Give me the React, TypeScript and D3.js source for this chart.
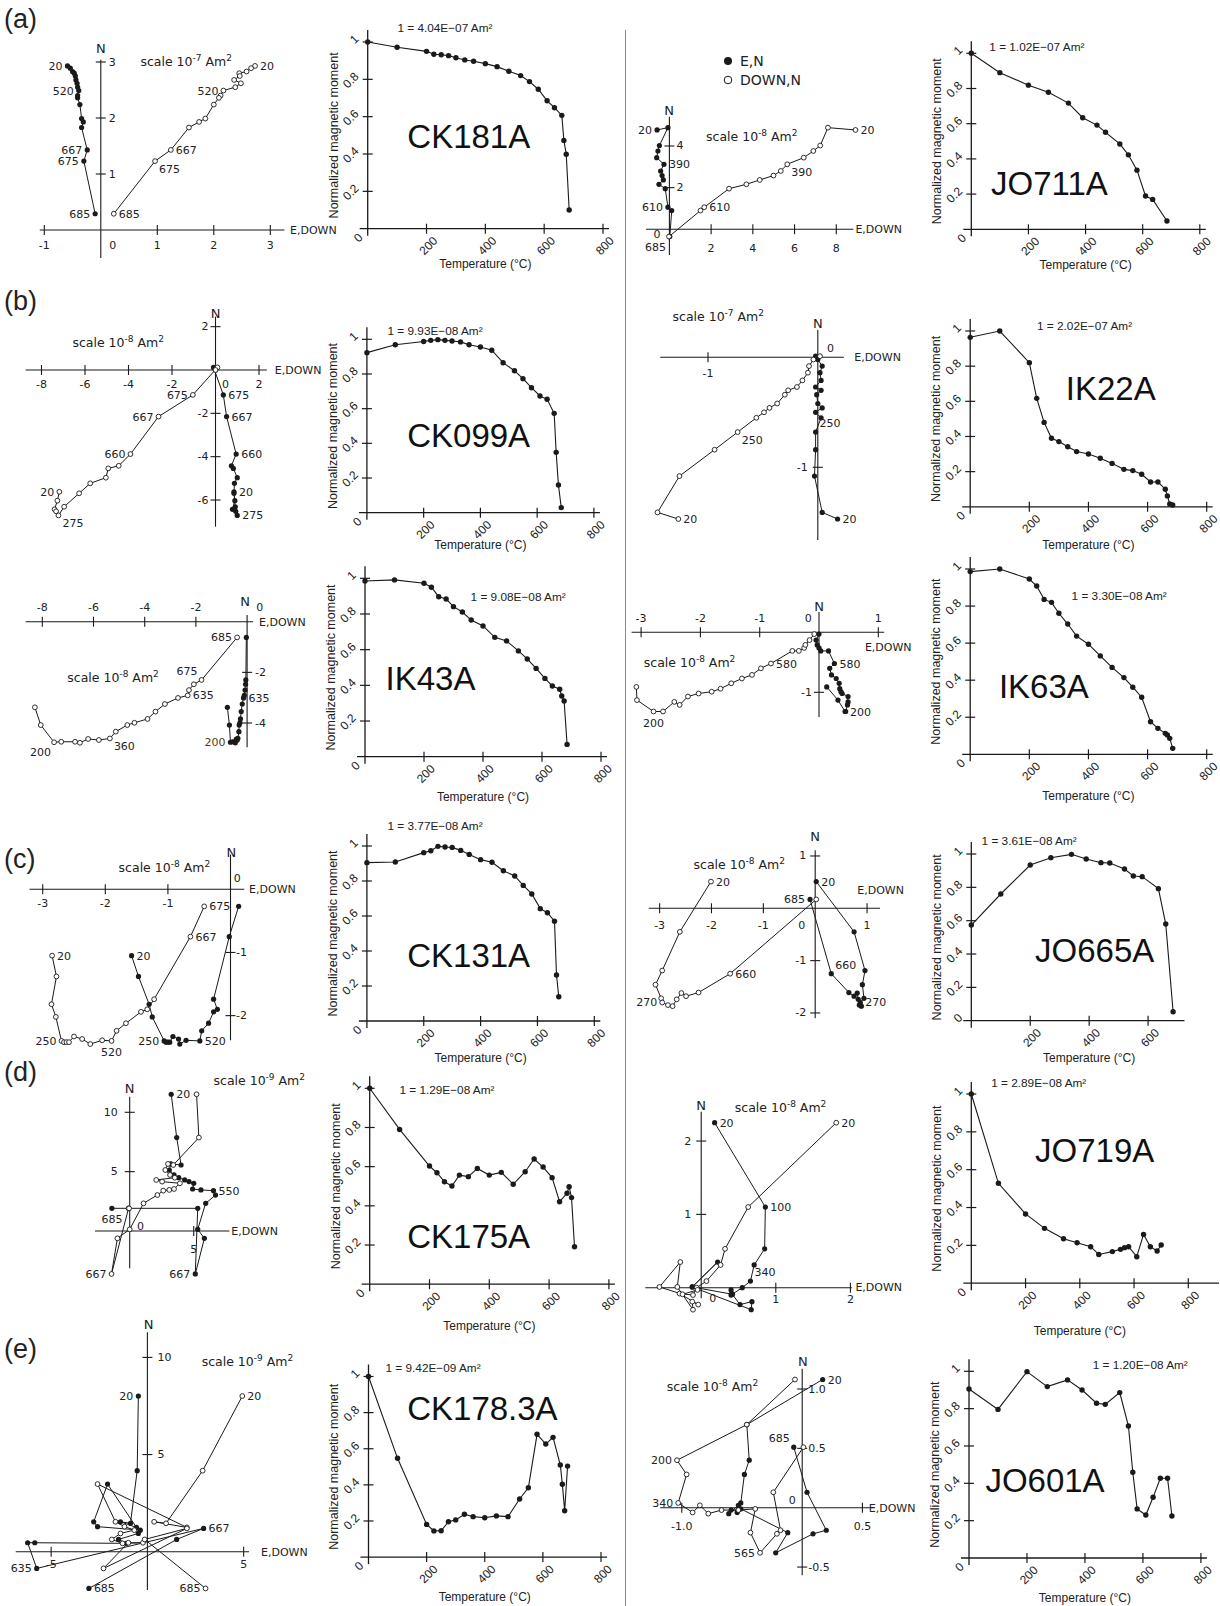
import React from "react";
import * as d3 from "d3";

// [point index, label text, side]  side: L R AL AR BL BR B
type Lbl = [number, string, string];

// ---------------- temperature steps (°C) ----------------
const stepsCK = [0, 100, 200, 225, 250, 275, 300, 330, 360, 400, 440, 480, 520, 550, 580, 610, 635, 660, 667, 675, 685];
const stepsCK131 = [0, 100, 200, 225, 250, 275, 300, 330, 360, 400, 440, 480, 520, 550, 580, 610, 635, 660, 667, 675];
const stepsJO711 = [0, 100, 200, 270, 340, 390, 440, 470, 520, 550, 580, 610, 635, 685];
const stepsJO665 = [0, 100, 200, 270, 340, 390, 440, 470, 520, 550, 580, 635, 660, 685];
const stepsJO = [0, 100, 200, 270, 340, 390, 440, 470, 520, 550, 565, 580, 610, 635, 660, 685, 700];

// ---------------- CK181A ----------------
const ck181aMoment = [1.0, 0.972, 0.95, 0.934, 0.932, 0.927, 0.916, 0.904, 0.897, 0.884, 0.868, 0.843, 0.82, 0.788, 0.747, 0.685, 0.648, 0.607, 0.473, 0.399, 0.1];
const ck181aNorth = [2.93, 2.89, 2.83, 2.8, 2.75, 2.68, 2.62, 2.55, 2.49, 2.4, 2.36, 2.24, 1.99, 1.93, 1.83, 1.43, 1.23, 0.29];
const ck181aEast = [-0.59, -0.54, -0.5, -0.47, -0.45, -0.44, -0.42, -0.41, -0.39, -0.41, -0.41, -0.37, -0.34, -0.31, -0.34, -0.24, -0.3, -0.1];
const ck181aDown = [2.73, 2.66, 2.58, 2.45, 2.46, 2.36, 2.48, 2.38, 2.17, 2.12, 2.09, 2.0, 1.85, 1.74, 1.56, 1.24, 0.96, 0.23];
const ck181aEastLbl: Lbl[] = [[0, "20", "L"], [8, "520", "L"], [15, "667", "L"], [16, "675", "L"], [17, "685", "L"]];
const ck181aDownLbl: Lbl[] = [[0, "20", "R"], [8, "520", "L"], [15, "667", "R"], [16, "675", "BR"], [17, "685", "R"]];

// ---------------- JO711A ----------------
const jo711aMoment = [1.0, 0.89, 0.819, 0.779, 0.717, 0.634, 0.592, 0.551, 0.485, 0.423, 0.336, 0.189, 0.17, 0.047];
const jo711aNorth = [4.77, 4.88, 4.02, 3.76, 3.44, 3.12, 2.8, 2.58, 2.37, 2.16, 1.95, 1.06, 0.9, -0.35];
const jo711aEast = [-0.59, -0.07, -0.48, -0.55, -0.61, -0.26, -0.42, -0.35, -0.29, -0.5, -0.2, -0.07, 0.11, 0.02];
const jo711aDown = [8.92, 7.6, 7.23, 6.9, 6.44, 5.65, 5.34, 4.99, 4.33, 3.69, 2.86, 1.67, 1.49, -0.02];
const jo711aEastLbl: Lbl[] = [[0, "20", "L"], [5, "390", "R"], [11, "610", "L"]];
const jo711aDownLbl: Lbl[] = [[0, "20", "R"], [5, "390", "BR"], [11, "610", "R"], [13, "685", "BL"]];

// ---------------- CK099A ----------------
const ck099aMoment = [0.923, 0.969, 0.987, 0.994, 0.998, 0.994, 0.99, 0.985, 0.969, 0.956, 0.937, 0.865, 0.819, 0.773, 0.721, 0.673, 0.654, 0.573, 0.348, 0.16, 0.029];
const ck099aNorth = [-5.62, -6.03, -6.43, -6.52, -6.71, -6.31, -5.69, -5.23, -4.97, -4.54, -4.42, -3.88, -2.15, -1.15, 0.12, 0];
const ck099aEast = [0.85, 0.89, 0.78, 0.93, 1.0, 0.91, 0.85, 0.87, 1.0, 0.82, 0.73, 0.95, 0.51, 0.36, -0.09, 0];
const ck099aDown = [-7.18, -7.27, -7.4, -7.33, -7.22, -6.96, -6.27, -5.76, -5.04, -4.93, -4.45, -3.91, -2.62, -1.04, 0.09, 0];
const ck099aEastLbl: Lbl[] = [[0, "20", "R"], [4, "275", "R"], [11, "660", "R"], [12, "667", "R"], [13, "675", "R"]];
const ck099aDownLbl: Lbl[] = [[0, "20", "L"], [4, "275", "BR"], [11, "660", "L"], [12, "667", "L"], [13, "675", "L"]];

// ---------------- IK22A ----------------
const ik22aMoment = [0.964, 1.0, 0.82, 0.617, 0.48, 0.39, 0.371, 0.342, 0.314, 0.3, 0.276, 0.247, 0.213, 0.206, 0.185, 0.141, 0.141, 0.1, 0.062, 0.016, 0.01];
const ik22aNorth = [-1.47, -1.41, -1.08, -0.84, -0.68, -0.55, -0.5, -0.46, -0.42, -0.34, -0.3, -0.27, -0.21, -0.14, -0.08, -0.02, 0.01];
const ik22aEast = [0.18, 0.04, -0.03, -0.02, -0.02, 0.03, -0.02, 0.04, 0, -0.01, 0.03, -0.02, 0.03, 0.02, 0.04, 0, -0.02];
const ik22aDown = [-1.27, -1.46, -1.26, -0.94, -0.73, -0.56, -0.49, -0.44, -0.37, -0.3, -0.27, -0.19, -0.14, -0.09, -0.08, -0.04, 0.02];
const ik22aEastLbl: Lbl[] = [[0, "20", "R"], [4, "250", "AR"]];
const ik22aDownLbl: Lbl[] = [[0, "20", "R"], [4, "250", "BR"]];

// ---------------- IK43A ----------------
const ik43aMoment = [0.985, 0.991, 0.972, 0.95, 0.897, 0.884, 0.841, 0.811, 0.766, 0.733, 0.669, 0.649, 0.593, 0.548, 0.495, 0.439, 0.396, 0.378, 0.34, 0.312, 0.069];
const ik43aNorth = [-3.38, -4.08, -4.76, -4.74, -4.74, -4.78, -4.63, -4.67, -4.61, -4.34, -4.08, -3.99, -3.84, -3.55, -3.25, -3.01, -2.91, -2.7, -2.47, -2.3, -0.62];
const ik43aEast = [-0.77, -0.69, -0.65, -0.57, -0.51, -0.46, -0.42, -0.39, -0.36, -0.32, -0.31, -0.28, -0.26, -0.23, -0.19, -0.14, -0.11, -0.08, -0.06, -0.05, -0.03];
const ik43aDown = [-8.29, -8.06, -7.54, -7.26, -6.72, -6.53, -6.21, -5.79, -5.36, -5.13, -4.68, -4.4, -3.89, -3.58, -3.21, -2.7, -2.32, -2.27, -2.08, -1.78, -0.39];
const ik43aEastLbl: Lbl[] = [[2, "200", "L"], [15, "635", "R"]];
const ik43aDownLbl: Lbl[] = [[2, "200", "BL"], [8, "360", "BR"], [16, "635", "R"], [19, "675", "AL"], [20, "685", "L"]];

// ---------------- IK63A ----------------
const ik63aMoment = [0.986, 1.0, 0.946, 0.908, 0.836, 0.82, 0.761, 0.703, 0.638, 0.594, 0.531, 0.469, 0.414, 0.362, 0.308, 0.176, 0.14, 0.113, 0.104, 0.086, 0.032];
const ik63aNorth = [-0.91, -1.13, -1.32, -1.32, -1.16, -1.21, -1.07, -1.02, -0.99, -0.94, -0.85, -0.77, -0.71, -0.6, -0.52, -0.31, -0.31, -0.26, -0.21, -0.13, -0.03];
const ik63aEast = [0.13, 0.32, 0.44, 0.45, 0.49, 0.48, 0.49, 0.39, 0.37, 0.35, 0.34, 0.29, 0.21, 0.18, 0.26, 0.16, 0.03, 0, -0.03, -0.05, 0];
const ik63aDown = [-3.08, -3.07, -2.79, -2.63, -2.44, -2.35, -2.21, -2.03, -1.81, -1.66, -1.48, -1.3, -1.13, -0.98, -0.81, -0.45, -0.34, -0.25, -0.23, -0.16, -0.08];
const ik63aEastLbl: Lbl[] = [[2, "200", "R"], [14, "580", "R"]];
const ik63aDownLbl: Lbl[] = [[2, "200", "B"], [14, "580", "R"]];

// ---------------- CK131A ----------------
const ck131aMoment = [0.905, 0.909, 0.962, 0.973, 0.998, 0.994, 0.992, 0.975, 0.952, 0.922, 0.907, 0.859, 0.829, 0.775, 0.726, 0.642, 0.619, 0.57, 0.263, 0.139];
const ck131aNorth = [-1.05, -1.38, -1.82, -2.02, -2.4, -2.42, -2.42, -2.42, -2.33, -2.37, -2.45, -2.39, -2.4, -2.24, -2.12, -1.94, -1.9, -1.74, -0.75, -0.27];
const ck131aEast = [-1.58, -1.47, -1.3, -1.25, -1.06, -1.03, -1.0, -0.97, -0.92, -0.83, -0.81, -0.71, -0.49, -0.46, -0.35, -0.27, -0.21, -0.27, -0.02, 0.13];
const ck131aDown = [-2.85, -2.78, -2.86, -2.79, -2.7, -2.66, -2.62, -2.58, -2.5, -2.37, -2.24, -2.05, -1.9, -1.82, -1.67, -1.43, -1.33, -1.22, -0.64, -0.42];
const ck131aEastLbl: Lbl[] = [[0, "20", "R"], [4, "250", "L"], [12, "520", "R"]];
const ck131aDownLbl: Lbl[] = [[0, "20", "R"], [4, "250", "L"], [12, "520", "B"], [18, "667", "R"], [19, "675", "R"]];

// ---------------- JO665A ----------------
const jo665aMoment = [0.574, 0.76, 0.934, 0.978, 0.998, 0.97, 0.948, 0.946, 0.91, 0.868, 0.864, 0.792, 0.58, 0.054];
const jo665aNorth = [0.51, -0.45, -1.19, -1.46, -1.72, -1.8, -1.85, -1.87, -1.74, -1.62, -1.68, -1.61, -1.25, 0.17];
const jo665aEast = [0.02, 0.75, 0.96, 0.91, 0.94, 0.87, 0.85, 0.89, 0.83, 0.81, 0.75, 0.65, 0.31, -0.1];
const jo665aDown = [-2.01, -2.61, -2.95, -3.08, -2.97, -2.95, -2.84, -2.75, -2.67, -2.58, -2.49, -2.25, -1.64, 0.02];
const jo665aEastLbl: Lbl[] = [[0, "20", "R"], [5, "270", "R"], [12, "660", "AR"], [13, "685", "L"]];
const jo665aDownLbl: Lbl[] = [[0, "20", "R"], [5, "270", "L"], [12, "660", "R"]];

// ---------------- CK175A ----------------
const ck175aMoment = [1.0, 0.79, 0.603, 0.569, 0.523, 0.501, 0.557, 0.549, 0.591, 0.557, 0.571, 0.51, 0.574, 0.639, 0.598, 0.544, 0.421, 0.464, 0.498, 0.442, 0.191];
const ck175aNorth = [11.52, 7.87, 5.56, 5.65, 5.14, 4.72, 4.49, 4.3, 4.16, 4.02, 3.54, 3.46, 3.4, 3.03, 2.33, 0.14, -0.62, -3.62, 1.91, 1.91];
const ck175aEast = [3.24, 3.67, 4.01, 3.21, 3.09, 3.46, 3.83, 4.29, 4.63, 5.0, 4.91, 5.56, 6.54, 6.7, 5.93, 5.31, 5.83, 5.12, 5.31, -1.39];
const ck175aDown = [5.22, 5.4, 3.4, 2.99, 2.78, 3.15, 3.52, 2.07, 2.53, 3.92, 3.46, 3.09, 2.62, 2.16, 1.08, 0, -0.96, -1.42, -0.09, -0.05];
const ck175aEastLbl: Lbl[] = [[0, "20", "R"], [12, "550", "R"], [17, "667", "L"], [19, "685", "B"]];
const ck175aDownLbl: Lbl[] = [[17, "667", "L"]];

// ---------------- JO719A ----------------
const jo719aMoment = [1.0, 0.528, 0.366, 0.29, 0.235, 0.214, 0.193, 0.152, 0.167, 0.179, 0.188, 0.193, 0.14, 0.258, 0.193, 0.17, 0.202];
const jo719aNorth = [2.25, 1.1, 0.53, 0.31, 0.09, 0, -0.1, -0.08, -0.23, -0.19, -0.3, 0.01, 0.35, 0.01, -0.09, -0.03];
const jo719aEast = [0.18, 0.86, 0.85, 0.71, 0.66, 0.55, 0.4, 0.41, 0.52, 0.68, 0.67, -0.12, 0.22, -0.12, 0.42, 0.4];
const jo719aDown = [1.81, 0.63, 0.32, 0.26, 0.07, -0.06, -0.11, -0.29, -0.04, -0.12, -0.11, -0.32, -0.28, -0.56, -0.25, -0.05];
const jo719aEastLbl: Lbl[] = [[0, "20", "R"], [1, "100", "R"], [4, "340", "AR"]];
const jo719aDownLbl: Lbl[] = [[0, "20", "R"]];

// ---------------- CK178.3A ----------------
const ck1783aMoment = [1.0, 0.547, 0.181, 0.145, 0.146, 0.196, 0.206, 0.237, 0.224, 0.218, 0.228, 0.224, 0.322, 0.384, 0.68, 0.626, 0.663, 0.51, 0.403, 0.257, 0.504];
const ck1783aNorth = [8.01, 4.17, 1.46, 1.54, 1.25, 3.48, 1.54, 1.29, 1.11, 0.94, 0.63, 0.43, 0.46, 0.46, -0.86, 1.2, 0.63, -1.89];
const ck1783aEast = [-0.47, -0.53, -0.88, -1.4, -0.57, -2.07, -2.79, -2.59, -0.37, -0.47, -1.5, -1.09, -5.85, -6.22, -5.75, 2.92, 1.52, -3.04];
const ck1783aDown = [4.93, 2.87, 0.97, 0.35, 2.05, -2.59, -1.66, -1.19, -0.68, -1.4, -1.85, -1.29, -0.23, -0.99, -2.28, 2.05, -0.14, 3.02];
const ck1783aEastLbl: Lbl[] = [[0, "20", "L"], [14, "635", "L"], [15, "667", "R"], [17, "685", "R"]];
const ck1783aDownLbl: Lbl[] = [[0, "20", "R"], [17, "685", "L"]];

// ---------------- JO601A ----------------
const jo601aMoment = [0.905, 0.796, 0.998, 0.918, 0.954, 0.9, 0.829, 0.823, 0.886, 0.707, 0.459, 0.263, 0.23, 0.325, 0.427, 0.427, 0.225];
const jo601aNorth = [1.08, 0.7, 0.4, 0.28, 0.04, -0.04, 0.02, -0.05, -0.02, -0.02, -0.01, -0.21, -0.38, -0.22, -0.19, 0.13, 0.51];
const jo601aEast = [0.17, -0.46, -0.44, -0.48, -0.51, -0.54, -0.53, -0.61, -0.59, -0.53, -0.51, -0.12, -0.22, 0.09, 0.2, 0.04, -0.07];
const jo601aDown = [-0.06, -0.46, -1.04, -0.96, -1.03, -0.91, -0.85, -0.78, -0.67, -0.53, -0.39, -0.43, -0.35, -0.21, -0.18, -0.24, 0.01];
const jo601aEastLbl: Lbl[] = [[0, "20", "R"], [16, "685", "AL"]];
const jo601aDownLbl: Lbl[] = [[2, "200", "L"], [4, "340", "L"], [12, "565", "L"]];

const INK = "#1a1a1a";

// label placement next to a point
function place(side: string, px: number, py: number) {
  switch (side) {
    case "L": return { x: px - 5, y: py + 4, a: "end" };
    case "AL": return { x: px - 4, y: py - 5, a: "end" };
    case "BL": return { x: px - 3, y: py + 14, a: "end" };
    case "AR": return { x: px + 4, y: py - 5, a: "start" };
    case "BR": return { x: px + 4, y: py + 12, a: "start" };
    case "B": return { x: px, y: py + 15, a: "middle" };
    default: return { x: px + 5, y: py + 4, a: "start" };
  }
}

type Zij = {
  ox: number; oy: number; kx: number; ky: number;
  xr: [number, number]; yr: [number, number];
  xt: number[]; xtDy: number; yt: number[]; ytDx: number;
  zero?: [number, number]; n: [number, number]; e: [number, number];
  sc: [number, number]; exp: string; dec1?: boolean;
  north: number[]; east: number[]; down: number[];
  eLbl: Lbl[]; dLbl: Lbl[]; brown?: number;
};

function Zijderveld({ z }: { z: Zij }) {
  const x = d3.scaleLinear().domain([0, 1]).range([z.ox, z.ox + z.kx]);
  const y = d3.scaleLinear().domain([0, 1]).range([z.oy, z.oy - z.ky]);
  const fmt = (v: number) => (z.dec1 ? v.toFixed(1) : String(v));
  const hor = z.north.map((n, i) => [z.east[i], n] as [number, number]);
  const ver = z.north.map((n, i) => [z.down[i], n] as [number, number]);
  const line = d3.line<[number, number]>().x((d) => x(d[0])).y((d) => y(d[1]));
  const ytAnchor = z.ytDx < 0 ? "end" : "start";
  return (
    <g fontFamily="'DejaVu Sans', Verdana, sans-serif" fill="#222">
      <line x1={x(z.xr[0])} x2={x(z.xr[1])} y1={z.oy} y2={z.oy} stroke={INK} strokeWidth={1.1} />
      <line x1={z.ox} x2={z.ox} y1={y(z.yr[0])} y2={y(z.yr[1])} stroke={INK} strokeWidth={1.1} />
      {z.xt.map((v) => (
        <g key={"xt" + v}>
          <line x1={x(v)} x2={x(v)} y1={z.oy - 5} y2={z.oy + 5} stroke={INK} strokeWidth={1.1} />
          <text x={x(v)} y={z.oy + z.xtDy} textAnchor="middle" dominantBaseline="central" fontSize={11}>{fmt(v)}</text>
        </g>
      ))}
      {z.yt.map((v) => (
        <g key={"yt" + v}>
          <line x1={z.ox - 5} x2={z.ox + 5} y1={y(v)} y2={y(v)} stroke={INK} strokeWidth={1.1} />
          <text x={z.ox + z.ytDx} y={y(v)} textAnchor={ytAnchor} dominantBaseline="central" fontSize={11}>{fmt(v)}</text>
        </g>
      ))}
      {z.zero && (
        <text x={z.ox + z.zero[0]} y={z.oy + z.zero[1]} textAnchor="middle" dominantBaseline="central" fontSize={11}>0</text>
      )}
      <text x={z.n[0]} y={z.n[1]} textAnchor="middle" dominantBaseline="central" fontSize={13}>N</text>
      <text x={z.e[0]} y={z.e[1]} dominantBaseline="central" fontSize={11}>E,DOWN</text>
      <text x={z.sc[0]} y={z.sc[1] + 4} fontSize={12.5}>
        scale 10<tspan dy={-5} fontSize={9}>{z.exp}</tspan>
        <tspan dy={5} fontSize={12.5}> Am</tspan>
        <tspan dy={-5} fontSize={9}>2</tspan>
      </text>
      <path d={line(hor) ?? ""} fill="none" stroke={INK} strokeWidth={1} />
      <path d={line(ver) ?? ""} fill="none" stroke={INK} strokeWidth={1} />
      {hor.map((p, i) => (
        <circle key={"h" + i} cx={x(p[0])} cy={y(p[1])} r={2.6} fill={INK} />
      ))}
      {ver.map((p, i) => (
        <circle key={"v" + i} cx={x(p[0])} cy={y(p[1])} r={2.4} fill="#fff" stroke={INK} strokeWidth={0.9} />
      ))}
      {z.eLbl.map(([i, t, s]) => {
        const q = place(s, x(hor[i][0]), y(hor[i][1]));
        return (
          <text key={"el" + i} x={q.x} y={q.y} textAnchor={q.a as any} fontSize={11} fill={z.brown === i ? "#5a3a1c" : "#222"}>{t}</text>
        );
      })}
      {z.dLbl.map(([i, t, s]) => {
        const q = place(s, x(ver[i][0]), y(ver[i][1]));
        return (
          <text key={"dl" + i} x={q.x} y={q.y} textAnchor={q.a as any} fontSize={11}>{t}</text>
        );
      })}
    </g>
  );
}

type Dec = {
  x0: number; x8: number; y0: number; y1: number;
  xt?: number[]; yt?: number[]; xEnd?: number;
  note: string; nx: number; ny: number;
  name: string; mx: number; my: number; tDy: number;
  temp: number[]; moment: number[];
};

function Decay({ d }: { d: Dec }) {
  const x = d3.scaleLinear().domain([0, 800]).range([d.x0, d.x8]);
  const y = d3.scaleLinear().domain([0, 1]).range([d.y0, d.y1]);
  const pts = d.temp.map((t, i) => [t, d.moment[i]] as [number, number]);
  const line = d3.line<[number, number]>().x((p) => x(p[0])).y((p) => y(p[1]));
  const xt = d.xt ?? [0, 200, 400, 600, 800];
  const yt = d.yt ?? [0.2, 0.4, 0.6, 0.8, 1];
  const midY = (d.y0 + d.y1) / 2;
  return (
    <g fontFamily="'Liberation Sans', Arial, Helvetica, sans-serif" fill="#222">
      <line x1={d.x0 - 8} x2={d.xEnd ?? d.x8 + 6} y1={d.y0} y2={d.y0} stroke={INK} strokeWidth={1.3} />
      <line x1={d.x0} x2={d.x0} y1={d.y0 + 7} y2={d.y1 - 12} stroke={INK} strokeWidth={1.3} />
      {xt.map((t) => {
        const tx = x(t);
        if (t === 0) {
          const lx = tx - 9.5, ly = d.y0 + 9;
          return (
            <text key={"x" + t} x={lx} y={ly} textAnchor="middle" dominantBaseline="central" fontSize={12} transform={`rotate(-45 ${lx} ${ly})`}>0</text>
          );
        }
        const lx = tx + 9, ly = d.y0 + 10;
        return (
          <g key={"x" + t}>
            <line x1={tx} x2={tx} y1={d.y0 - 5} y2={d.y0 + 5} stroke={INK} strokeWidth={1.2} />
            <text x={lx} y={ly} textAnchor="end" dominantBaseline="central" fontSize={12} transform={`rotate(-45 ${lx} ${ly})`}>{t}</text>
          </g>
        );
      })}
      {yt.map((v) => {
        const ty = y(v);
        const lx = d.x0 - 11, ly = ty - 5;
        return (
          <g key={"y" + v}>
            {v > 0 && <line x1={d.x0 - 5} x2={d.x0 + 5} y1={ty} y2={ty} stroke={INK} strokeWidth={1.2} />}
            <text x={lx} y={ly} textAnchor="end" dominantBaseline="central" fontSize={12} transform={`rotate(-45 ${lx} ${ly})`}>{String(v)}</text>
          </g>
        );
      })}
      <text x={d.x0 - 34} y={midY} textAnchor="middle" dominantBaseline="central" fontSize={12.5} transform={`rotate(-90 ${d.x0 - 34} ${midY})`}>Normalized magnetic moment</text>
      <text x={(d.x0 + d.x8) / 2} y={d.y0 + d.tDy} textAnchor="middle" fontSize={12}>Temperature (°C)</text>
      <text x={d.nx} y={d.ny} fontSize={11.8}>{d.note}</text>
      <text x={d.mx} y={d.my} fontSize={33} fill="#111">{d.name}</text>
      <path d={line(pts) ?? ""} fill="none" stroke={INK} strokeWidth={1.1} />
      {pts.map((p, i) => (
        <circle key={i} cx={x(p[0])} cy={y(p[1])} r={2.7} fill={INK} />
      ))}
    </g>
  );
}

const zijPanels: Zij[] = [
  { ox: 100.8, oy: 230, kx: 56.5, ky: 56, xr: [-1.08, 3.25], yr: [-0.5, 3.04], xt: [-1, 1, 2, 3], xtDy: 15, yt: [1, 2, 3], ytDx: 8, zero: [12, 15], n: [100.8, 48], e: [290, 230], sc: [140.4, 62], exp: "-7",
    north: ck181aNorth, east: ck181aEast, down: ck181aDown, eLbl: ck181aEastLbl, dLbl: ck181aDownLbl },
  { ox: 669.4, oy: 229.3, kx: 20.86, ky: 20.83, xr: [-1.12, 8.82], yr: [-1.23, 5.4], xt: [2, 4, 6, 8], xtDy: 19, yt: [2, 4], ytDx: 7, zero: [-12.3, 5.5], n: [669, 110], e: [855.4, 229.3], sc: [706, 136.7], exp: "-8",
    north: jo711aNorth, east: jo711aEast, down: jo711aDown, eLbl: jo711aEastLbl, dLbl: jo711aDownLbl },
  { ox: 215.5, oy: 370, kx: 21.75, ky: 21.67, xr: [-8.73, 2.36], yr: [-7.23, 2.46], xt: [-8, -6, -4, -2, 2], xtDy: 14.3, yt: [2, -2, -4, -6], ytDx: -7, zero: [9.9, 14.3], n: [215.5, 313.3], e: [274.8, 370], sc: [72.4, 343.3], exp: "-8",
    north: ck099aNorth, east: ck099aEast, down: ck099aDown, eLbl: ck099aEastLbl, dLbl: ck099aDownLbl },
  { ox: 817.8, oy: 357.3, kx: 109.8, ky: 110, xr: [-1.435, 0.237], yr: [-1.66, 0.248], xt: [-1], xtDy: 16, yt: [-1], ytDx: -10, zero: [12.6, -9], n: [817.8, 323.3], e: [854.2, 357.3], sc: [672.5, 316.7], exp: "-7",
    north: ik22aNorth, east: ik22aEast, down: ik22aDown, eLbl: ik22aEastLbl, dLbl: ik22aDownLbl },
  { ox: 247.1, oy: 621.7, kx: 25.6, ky: 25.33, xr: [-8.65, 0.23], yr: [-4.96, 0.26], xt: [-8, -6, -4, -2], xtDy: -14.4, yt: [-2, -4], ytDx: 8, zero: [12.7, -14.4], n: [245.2, 601.7], e: [259, 622.7], sc: [67.3, 678.3], exp: "-8",
    north: ik43aNorth, east: ik43aEast, down: ik43aDown, eLbl: ik43aEastLbl, dLbl: ik43aDownLbl, brown: 2 },
  { ox: 819, oy: 632.3, kx: 59.3, ky: 60, xr: [-3.16, 1.1], yr: [-1.41, 0.34], xt: [-3, -2, -1, 1], xtDy: -14, yt: [-1], ytDx: -7, zero: [-10.7, -14], n: [819, 606.7], e: [864.9, 647.3], sc: [643.8, 663.3], exp: "-8",
    north: ik63aNorth, east: ik63aEast, down: ik63aDown, eLbl: ik63aEastLbl, dLbl: ik63aDownLbl },
  { ox: 230.5, oy: 889.3, kx: 62.6, ky: 63.17, xr: [-3.21, 0.22], yr: [-2.39, 0.55], xt: [-3, -2, -1], xtDy: 14, yt: [-1, -2], ytDx: 5.5, zero: [6.8, -11], n: [231.3, 852], e: [249.1, 889], sc: [118.6, 868.3], exp: "-8",
    north: ck131aNorth, east: ck131aEast, down: ck131aDown, eLbl: ck131aEastLbl, dLbl: ck131aDownLbl },
  { ox: 815.2, oy: 908.3, kx: 51.86, ky: 52.33, xr: [-3.21, 1.25], yr: [-2.1, 1.11], xt: [-3, -2, -1, 1], xtDy: 16.7, yt: [1, -1, -2], ytDx: -9, zero: [-13.4, 16.7], n: [815.2, 836.7], e: [857.3, 890], sc: [693.5, 865], exp: "-8",
    north: jo665aNorth, east: jo665aEast, down: jo665aDown, eLbl: jo665aEastLbl, dLbl: jo665aDownLbl },
  { ox: 129.7, oy: 1231, kx: 12.81, ky: 11.87, xr: [-2.71, 7.78], yr: [-3.14, 11.32], xt: [5], xtDy: 18, yt: [5, 10], ytDx: -12, zero: [10.7, -5], n: [129.7, 1088.3], e: [231.3, 1231.7], sc: [213.5, 1081], exp: "-9",
    north: ck175aNorth, east: ck175aEast, down: ck175aDown, eLbl: ck175aEastLbl, dLbl: ck175aDownLbl },
  { ox: 701.2, oy: 1287.7, kx: 74.6, ky: 73.33, xr: [-0.75, 2.02], yr: [-0.145, 2.4], xt: [1, 2], xtDy: 11.5, yt: [1, 2], ytDx: -10, zero: [11.5, 10.7], n: [701.2, 1105], e: [855.4, 1287.7], sc: [734.8, 1107.7], exp: "-8",
    north: jo719aNorth, east: jo719aEast, down: jo719aDown, eLbl: jo719aEastLbl, dLbl: jo719aDownLbl },
  { ox: 147.4, oy: 1551.7, kx: 19.25, ky: 19.43, xr: [-6.84, 5.28], yr: [-1.97, 11.3], xt: [-5, 5], xtDy: 13, yt: [5, 10], ytDx: 10, n: [148.5, 1324.5], e: [261, 1552.3], sc: [201.7, 1361.7], exp: "-9",
    north: ck1783aNorth, east: ck1783aEast, down: ck1783aDown, eLbl: ck1783aEastLbl, dLbl: ck1783aDownLbl },
  { ox: 802.2, oy: 1507.7, kx: 120.4, ky: 118.7, xr: [-1.18, 0.6], yr: [-0.57, 1.17], xt: [-1.0, 0.5], xtDy: 19, yt: [1.0, 0.5, -0.5], ytDx: 6, zero: [-10, -7.7], n: [802.9, 1361.7], e: [868.8, 1508], sc: [666.7, 1386.7], exp: "-8", dec1: true,
    north: jo601aNorth, east: jo601aEast, down: jo601aDown, eLbl: jo601aEastLbl, dLbl: jo601aDownLbl },
];

const decPanels: Dec[] = [
  { x0: 367.7, x8: 603, y0: 228.7, y1: 42, note: "1 = 4.04E\u221207 Am\u00b2", nx: 397.4, ny: 32, name: "CK181A", mx: 407.3, my: 148.3, tDy: 39, temp: stepsCK, moment: ck181aMoment },
  { x0: 971.3, x8: 1199.8, y0: 229.3, y1: 53.3, note: "1 = 1.02E\u221207 Am\u00b2", nx: 989.3, ny: 51, name: "JO711A", mx: 991.1, my: 195, tDy: 40, temp: stepsJO711, moment: jo711aMoment },
  { x0: 366.9, x8: 593.9, y0: 512.7, y1: 339.3, note: "1 = 9.93E\u221208 Am\u00b2", nx: 387.5, ny: 335, name: "CK099A", mx: 407.2, my: 446.7, tDy: 36, temp: stepsCK, moment: ck099aMoment },
  { x0: 970.2, x8: 1206.7, y0: 506.8, y1: 331, note: "1 = 2.02E\u221207 Am\u00b2", nx: 1037, ny: 330, name: "IK22A", mx: 1065.8, my: 400, tDy: 42, temp: stepsCK, moment: ik22aMoment },
  { x0: 365, x8: 601, y0: 756.7, y1: 578.3, note: "1 = 9.08E\u221208 Am\u00b2", nx: 470.6, ny: 601, name: "IK43A", mx: 385.5, my: 690, tDy: 44, temp: stepsCK, moment: ik43aMoment },
  { x0: 970.2, x8: 1206.7, y0: 754.3, y1: 569, note: "1 = 3.30E\u221208 Am\u00b2", nx: 1071.6, ny: 600, name: "IK63A", mx: 998.9, my: 698.3, tDy: 46, temp: stepsCK, moment: ik63aMoment },
  { x0: 366.9, x8: 594.3, y0: 1021, y1: 846, note: "1 = 3.77E\u221208 Am\u00b2", nx: 387.5, ny: 829.5, name: "CK131A", mx: 407.2, my: 966.7, tDy: 41, temp: stepsCK131, moment: ck131aMoment },
  { x0: 971.3, x8: 1207, y0: 1020.7, y1: 854, xt: [200, 400, 600], yt: [0, 0.2, 0.4, 0.6, 0.8, 1], xEnd: 1184.5, note: "1 = 3.61E\u221208 Am\u00b2", nx: 981.6, ny: 845, name: "JO665A", mx: 1035.1, my: 961.7, tDy: 41, temp: stepsJO665, moment: jo665aMoment },
  { x0: 369.7, x8: 608.9, y0: 1284.2, y1: 1088.3, note: "1 = 1.29E\u221208 Am\u00b2", nx: 399.4, ny: 1093.5, name: "CK175A", mx: 407.2, my: 1248.3, tDy: 46, temp: stepsCK, moment: ck175aMoment },
  { x0: 971.3, x8: 1188.3, y0: 1283.2, y1: 1094, xEnd: 1219, note: "1 = 2.89E\u221208 Am\u00b2", nx: 991.2, ny: 1087, name: "JO719A", mx: 1035.1, my: 1161.7, tDy: 52, temp: stepsJO, moment: jo719aMoment },
  { x0: 368.5, x8: 601, y0: 1557.1, y1: 1376.5, note: "1 = 9.42E\u221209 Am\u00b2", nx: 385.5, ny: 1371.8, name: "CK178.3A", mx: 407.2, my: 1420, tDy: 44, temp: stepsCK, moment: ck1783aMoment },
  { x0: 969, x8: 1200.9, y0: 1558, y1: 1371.3, note: "1 = 1.20E\u221208 Am\u00b2", nx: 1092.7, ny: 1368.5, name: "JO601A", mx: 985.4, my: 1491.7, tDy: 44, temp: stepsJO, moment: jo601aMoment },
];

const panelLetters = ["(a)", "(b)", "(c)", "(d)", "(e)"];
const letterY = [28, 310, 868, 1081, 1358];

export default function App() {
  return (
    <div style={{ position: "absolute", left: 0, top: 0, background: "#fff" }}>
      <svg width={1220} height={1606} style={{ display: "block" }}>
        <rect width={1220} height={1606} fill="#fff" />
        <line x1={625.5} x2={625.5} y1={30} y2={1606} stroke="#8a8a8a" strokeWidth={1} />
        {panelLetters.map((t, i) => (
          <text key={t} x={4} y={letterY[i]} fontSize={27} fontFamily="'Liberation Sans', Arial, sans-serif" fill="#222">{t}</text>
        ))}
        {zijPanels.map((z, i) => (
          <Zijderveld key={"z" + i} z={z} />
        ))}
        {decPanels.map((d, i) => (
          <Decay key={"d" + i} d={d} />
        ))}
        {/* legend of the projections */}
        <g fontFamily="'DejaVu Sans', Verdana, sans-serif" fontSize={14} fill="#222">
          <circle cx={728} cy={61} r={4} fill={INK} />
          <text x={740} y={61} dominantBaseline="central">E,N</text>
          <circle cx={728} cy={80} r={3.8} fill="#fff" stroke={INK} strokeWidth={1} />
          <text x={740} y={80} dominantBaseline="central">DOWN,N</text>
        </g>
      </svg>
    </div>
  );
}
